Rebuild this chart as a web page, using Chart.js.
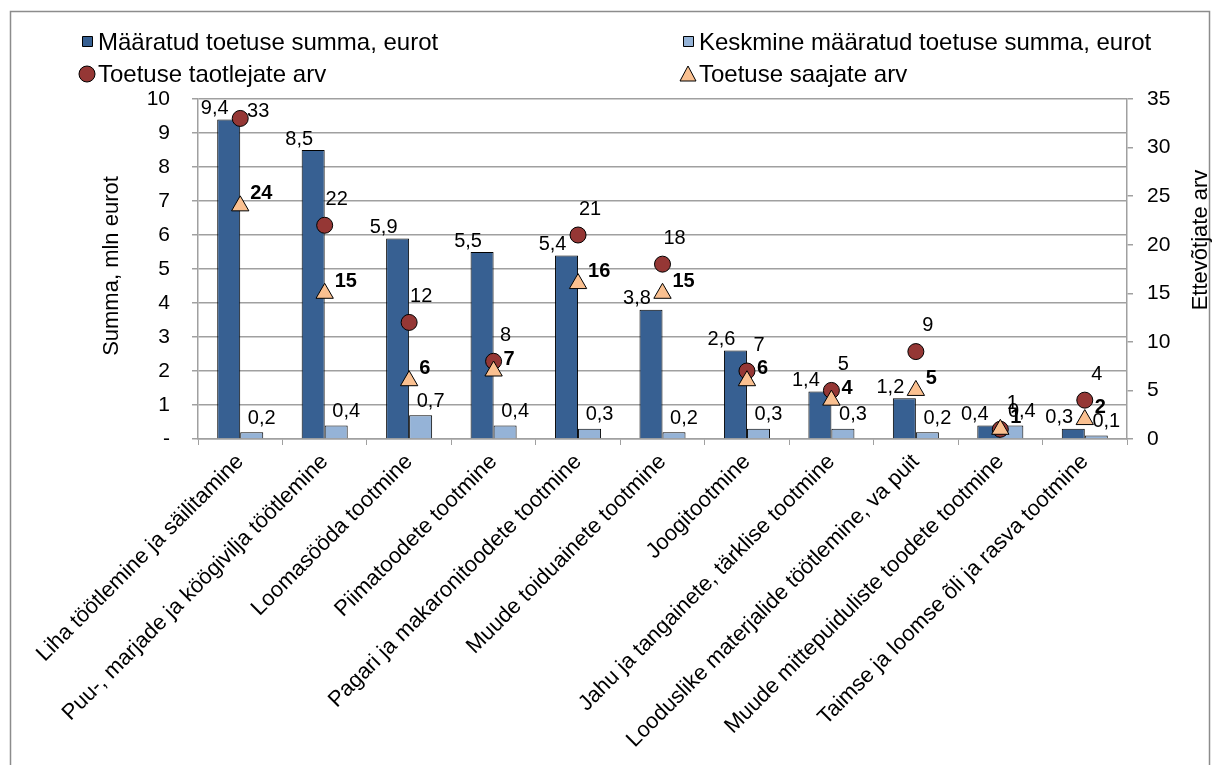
<!DOCTYPE html>
<html>
<head>
<meta charset="utf-8">
<script src="https://cdn.jsdelivr.net/npm/chart.js@4.4.1/dist/chart.umd.min.js"></script>
<style>
  html, body { margin: 0; padding: 0; background: #fff; }
</style>
</head>
<body>
<canvas id="chart" width="1215" height="765"></canvas>
<script>
// chart data
const categories = [
    'Liha töötlemine ja säilitamine',
    'Puu-, marjade ja köögivilja töötlemine',
    'Loomasööda tootmine',
    'Piimatoodete tootmine',
    'Pagari ja makaronitoodete tootmine',
    'Muude toiduainete tootmine',
    'Joogitootmine',
    'Jahu ja tangainete, tärklise tootmine',
    'Looduslike materjalide töötlemine, va puit',
    'Muude mittepuiduliste toodete tootmine',
    'Taimse ja loomse õli ja rasva tootmine'
];
const summa = [9.4, 8.5, 5.9, 5.5, 5.4, 3.8, 2.6, 1.4, 1.2, 0.4, 0.3];
const keskmine = [0.2, 0.4, 0.7, 0.4, 0.3, 0.2, 0.3, 0.3, 0.2, 0.4, 0.1];
const taotlejad = [33, 22, 12, 8, 21, 18, 7, 5, 9, 1, 4];
const saajad = [24, 15, 6, 7, 16, 15, 6, 4, 5, 1, 2];
const leftTicks = [0, 1, 2, 3, 4, 5, 6, 7, 8, 9, 10];
const rightTicks = [0, 5, 10, 15, 20, 25, 30, 35];

const seriesNames = [
    'Määratud toetuse summa, eurot',
    'Keskmine määratud toetuse summa, eurot',
    'Toetuse taotlejate arv',
    'Toetuse saajate arv'
];

const FONT = '"Liberation Sans", Arial, sans-serif';
const DARK = '#376092';
const LIGHT = '#95B3D7';
const RED = '#953735';
const PEACH = '#FAC090';
const GRID = '#A0A0A0';

Chart.defaults.font.family = FONT;
Chart.defaults.color = '#000';

const fmt = v => v.toFixed(1).replace('.', ',');

// white background, outer frame, legend and axis titles
const framePlugin = {
    id: 'frame',
    beforeDraw(chart) {
        const ctx = chart.ctx;
        ctx.save();
        ctx.fillStyle = '#fff';
        ctx.fillRect(0, 0, chart.width, chart.height);
        ctx.strokeStyle = '#8C8C8C';
        ctx.lineWidth = 1.5;
        ctx.strokeRect(10.5, 11.5, 1199, 800);
        ctx.restore();
    },
    afterDraw(chart) {
        const ctx = chart.ctx;
        const area = chart.chartArea;
        ctx.save();

        // legend, two columns
        const items = [
            { x: 82, y: 42, kind: 'square', fill: DARK },
            { x: 683, y: 42, kind: 'square', fill: LIGHT },
            { x: 82, y: 74, kind: 'circle', fill: RED },
            { x: 683, y: 74, kind: 'triangle', fill: PEACH }
        ];
        ctx.font = '24px ' + FONT;
        ctx.textBaseline = 'middle';
        ctx.textAlign = 'left';
        ctx.lineWidth = 1;
        ctx.strokeStyle = '#000';
        items.forEach((it, i) => {
            ctx.fillStyle = it.fill;
            ctx.beginPath();
            if (it.kind === 'square') {
                ctx.rect(it.x + 0.5, it.y - 5.5, 10, 10);
            } else if (it.kind === 'circle') {
                ctx.arc(it.x + 5, it.y, 8, 0, Math.PI * 2);
            } else {
                ctx.moveTo(it.x + 5, it.y - 8);
                ctx.lineTo(it.x + 13, it.y + 7);
                ctx.lineTo(it.x - 3, it.y + 7);
                ctx.closePath();
            }
            ctx.fill();
            ctx.stroke();
            ctx.fillStyle = '#000';
            ctx.fillText(seriesNames[i], it.x + 16, it.y + 1);
        });

        // axis titles
        ctx.font = '22px ' + FONT;
        ctx.textAlign = 'center';
        ctx.save();
        ctx.translate(112, (area.top + area.bottom) / 2 - 3);
        ctx.rotate(-Math.PI / 2);
        ctx.fillText('Summa, mln eurot', 0, 0);
        ctx.restore();
        ctx.save();
        ctx.translate(1201, 240);
        ctx.rotate(-Math.PI / 2);
        ctx.fillText('Ettevõtjate arv', 0, 0);
        ctx.restore();

        ctx.restore();
    }
};

// value labels next to bars and markers
const labelPlugin = {
    id: 'valueLabels',
    afterDatasetsDraw(chart) {
        const ctx = chart.ctx;
        const area = chart.chartArea;
        ctx.save();
        ctx.fillStyle = '#000';
        ctx.textBaseline = 'middle';

        ctx.font = '20px ' + FONT;
        ctx.textAlign = 'center';
        chart.getDatasetMeta(0).data.forEach((bar, i) => {
            ctx.fillText(fmt(summa[i]), bar.x - 14, bar.y - 11);
        });
        chart.getDatasetMeta(1).data.forEach((bar, i) => {
            ctx.fillText(fmt(keskmine[i]), bar.x + 10, bar.y - 14);
        });
        chart.getDatasetMeta(2).data.forEach((pt, i) => {
            if (pt.y - 36 < area.top) {
                ctx.fillText(String(taotlejad[i]), pt.x + 18, pt.y - 7);
            } else {
                ctx.fillText(String(taotlejad[i]), pt.x + 12, pt.y - 26);
            }
        });

        ctx.font = 'bold 20px ' + FONT;
        ctx.textAlign = 'left';
        chart.getDatasetMeta(3).data.forEach((pt, i) => {
            ctx.fillText(String(saajad[i]), pt.x + 10, pt.y - 12);
        });
        ctx.restore();
    }
};

const chart = new Chart(document.getElementById('chart'), {
    type: 'bar',
    data: {
        labels: categories,
        datasets: [
            {
                label: seriesNames[0],
                data: summa,
                yAxisID: 'y',
                backgroundColor: DARK,
                borderColor: '#000',
                borderWidth: 1,
                categoryPercentage: 0.545,
                barPercentage: 1,
                order: 3
            },
            {
                label: seriesNames[1],
                data: keskmine,
                yAxisID: 'y',
                backgroundColor: LIGHT,
                borderColor: '#000',
                borderWidth: 1,
                categoryPercentage: 0.545,
                barPercentage: 1,
                order: 3
            },
            {
                type: 'line',
                label: seriesNames[2],
                data: taotlejad,
                yAxisID: 'y2',
                showLine: false,
                pointStyle: 'circle',
                pointRadius: 8,
                pointBackgroundColor: RED,
                pointBorderColor: '#000',
                pointBorderWidth: 1,
                order: 1
            },
            {
                type: 'line',
                label: seriesNames[3],
                data: saajad,
                yAxisID: 'y2',
                showLine: false,
                pointStyle: 'triangle',
                pointRadius: 10,
                pointBackgroundColor: PEACH,
                pointBorderColor: '#000',
                pointBorderWidth: 1,
                order: 0
            }
        ]
    },
    options: {
        responsive: false,
        animation: false,
        devicePixelRatio: 1,
        layout: { padding: { top: 99, left: 0, right: 0, bottom: 0 } },
        plugins: {
            legend: { display: false },
            tooltip: { enabled: false }
        },
        scales: {
            x: {
                grid: {
                    offset: true,
                    drawOnChartArea: false,
                    drawTicks: true,
                    tickLength: 6,
                    color: GRID
                },
                border: { color: GRID, width: 1.5 },
                ticks: {
                    autoSkip: false,
                    maxRotation: 45,
                    minRotation: 45,
                    padding: 4,
                    font: { size: 22 }
                },
                afterFit(scale) { scale.height = 765 - 439; }
            },
            y: {
                position: 'left',
                min: leftTicks[0],
                max: leftTicks[leftTicks.length - 1],
                afterBuildTicks(scale) { scale.ticks = leftTicks.map(v => ({ value: v })); },
                ticks: {
                    padding: 22,
                    font: { size: 21 },
                    callback: v => (v === 0 ? '-' : v)
                },
                grid: { color: GRID, tickLength: 6, lineWidth: 1.5 },
                border: { color: GRID, width: 1.5 },
                afterFit(scale) { scale.width = 198; }
            },
            y2: {
                position: 'right',
                min: rightTicks[0],
                max: rightTicks[rightTicks.length - 1],
                afterBuildTicks(scale) { scale.ticks = rightTicks.map(v => ({ value: v })); },
                ticks: {
                    padding: 14,
                    font: { size: 21 }
                },
                grid: { drawOnChartArea: false, color: GRID, tickLength: 6, lineWidth: 1.5 },
                border: { color: GRID, width: 1.5 },
                afterFit(scale) { scale.width = 1215 - 1127; }
            }
        }
    },
    plugins: [framePlugin, labelPlugin]
});
</script>
</body>
</html>
